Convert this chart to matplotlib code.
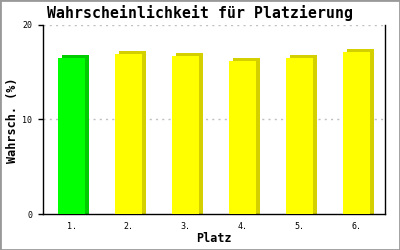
import matplotlib
matplotlib.use("Agg")
import matplotlib.pyplot as plt
from matplotlib.transforms import ScaledTranslation
from matplotlib.patches import Rectangle

categories = ["1.", "2.", "3.", "4.", "5.", "6."]
values = [16.5, 16.9, 16.7, 16.2, 16.5, 17.1]
front_colors = ["#00ff00", "#ffff00", "#ffff00", "#ffff00", "#ffff00", "#ffff00"]
side_colors = ["#00cc00", "#d4d000", "#d4d000", "#d4d000", "#d4d000", "#d4d000"]
yticks = [0, 10, 20]

fig = plt.figure(figsize=(4, 2.5), dpi=100)
ax = fig.add_axes([43/400, 1-214/250, (385-43)/400, (214-25)/250])

x = list(range(len(categories)))
width = 27/57
off = ScaledTranslation(4/100, 3/100, fig.dpi_scale_trans)
# shadow (side + top) bars
ax.bar(x, [v + 1 for v in values], bottom=-1, width=width, color=side_colors,
       transform=ax.transData + off, zorder=2, linewidth=0)
ax.bar(x, values, width=width, color=front_colors, zorder=3, linewidth=0)

ax.set_xlim(-0.5, len(categories) - 0.5)
ax.set_ylim(0, 20)
ax.set_yticks(yticks)
ax.set_xticks(x)
ax.set_xticklabels(categories)
for yv in [10, 20]:
    ax.axhline(yv, color="#c0c0c0", lw=1.0, dashes=(1.5, 3), zorder=1)

for s in ["left", "bottom", "right"]:
    ax.spines[s].set_linewidth(1.0)
    ax.spines[s].set_color("black")
ax.spines["top"].set_visible(False)
ax.tick_params(axis="y", length=3.6, width=1.0, pad=4,
               labelsize=6, labelfontfamily="DejaVu Sans Mono")
ax.tick_params(axis="x", length=0, pad=6,
               labelsize=6, labelfontfamily="DejaVu Sans Mono")

fig.text(0.5, 1-13/250, "Wahrscheinlichkeit für Platzierung", ha="center", va="center",
         fontsize=10.7, fontweight="bold", family="DejaVu Sans Mono")
fig.text(214/400, 1-239/250, "Platz", ha="center", va="center",
         fontsize=8.5, fontweight="bold", family="DejaVu Sans Mono")
fig.text(13/400, 1-120/250, "Wahrsch. (%)", ha="center", va="center", rotation=90,
         fontsize=8.5, fontweight="bold", family="DejaVu Sans Mono")

fig.patches.append(Rectangle((0, 0), 1, 1, transform=fig.transFigure, fill=False,
                             edgecolor="#999999", lw=2, zorder=10))
fig.savefig("out.png", dpi=100)
